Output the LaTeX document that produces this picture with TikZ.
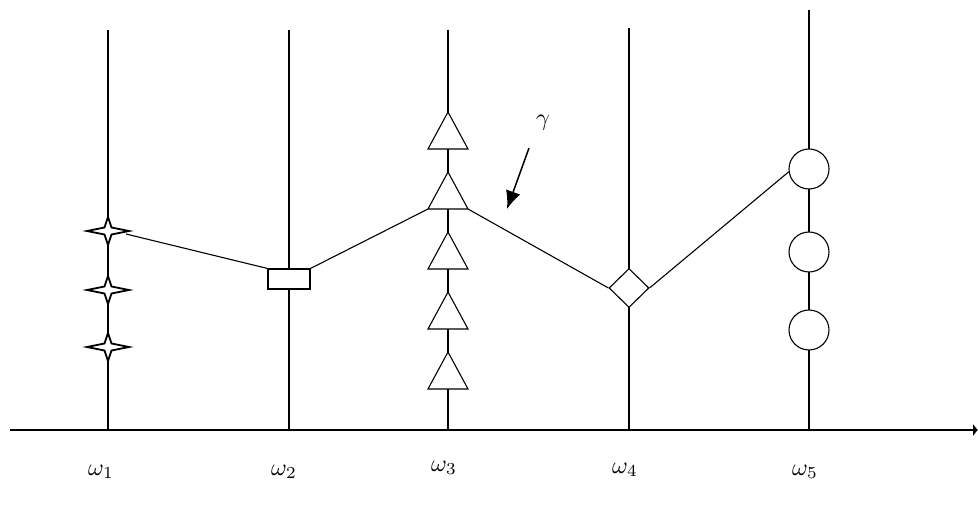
\documentclass[tikz,border=0pt]{standalone}
\usetikzlibrary{shapes.geometric,arrows.meta}
\tikzset{
  ln/.style={line width=1.1pt},
  box/.style={draw,ln,fill=white,rectangle,minimum width=42pt,minimum height=20pt,inner sep=0pt},
  dia/.style={draw,ln,fill=white,diamond,minimum width=40pt,minimum height=39pt,inner sep=0pt},
  ring/.style={draw,ln,fill=white,circle,minimum size=40pt,inner sep=0pt},
  lab/.style={scale=2.4,inner sep=0pt},
  startip/.pic={\draw[line width=1.8pt,fill=white] (21,0)--(3.5,3.5)--(0,14)--(-3.5,3.5)--(-21,0)--(-3.5,-3.5)--(0,-14)--(3.5,-3.5)--cycle;},
  tri/.pic={\draw[ln,fill=white] (-20,0)--(20,0)--(0,-37)--cycle;}
}
\begin{document}
\begin{tikzpicture}[x=1pt,y=-1pt]
\useasboundingbox (0,0) rectangle (978,526);
% vertical lines
\coordinate (t1) at (108,30);  \coordinate (b1) at (108,430);
\coordinate (t2) at (289,30);  \coordinate (b2) at (289,430);
\coordinate (t3) at (448,30);  \coordinate (b3) at (448,430);
\coordinate (t4) at (629,28);  \coordinate (b4) at (629,430);
\coordinate (t5) at (809,10);  \coordinate (b5) at (809,430);
\foreach \i in {1,...,5} \draw[ln] (t\i) -- (b\i);
% horizontal axis
\coordinate (ax0) at (10,430);
\coordinate (ax1) at (978,430);
\draw[ln,-{Latex[length=5pt,width=13pt]}] (ax0) -- (ax1);
% stars on first line
\foreach \y in {231,290,347} \pic at (108,\y) {startip};
\coordinate (s1) at (126,234);
% triangles on third line
\foreach \y in {149,209,269,329,389} \pic at (448,\y) {tri};
\coordinate (tl) at (428,209);
\coordinate (tr) at (468,209);
% other markers
\node[box] (r) at (289,279) {};
\node[dia] (d) at (629,288) {};
\node[ring] (c1) at (809,169) {};
\node[ring] (c2) at (809,252) {};
\node[ring] (c3) at (809,330) {};
% polyline
\draw[ln] (s1) -- (r.north west);
\draw[ln] (r.north east) -- (tl);
\draw[ln] (tr) -- (d.west);
\draw[ln] (d.east) -- (c1.188);
% gamma label and arrow
\node[lab] (g) at (543,123) {$\gamma$};
\coordinate (ga) at (529,148);
\coordinate (gb) at (507,209);
\draw[line width=1.5pt,-{Latex[length=18pt,width=15pt]}] (ga) -- (gb);
% axis labels
\node[lab] (w1) at (101,472) {$\omega_1$};
\node[lab] (w2) at (284,472) {$\omega_2$};
\node[lab] (w3) at (444,468) {$\omega_3$};
\node[lab] (w4) at (625,470) {$\omega_4$};
\node[lab] (w5) at (805,472) {$\omega_5$};
\end{tikzpicture}
\end{document}
